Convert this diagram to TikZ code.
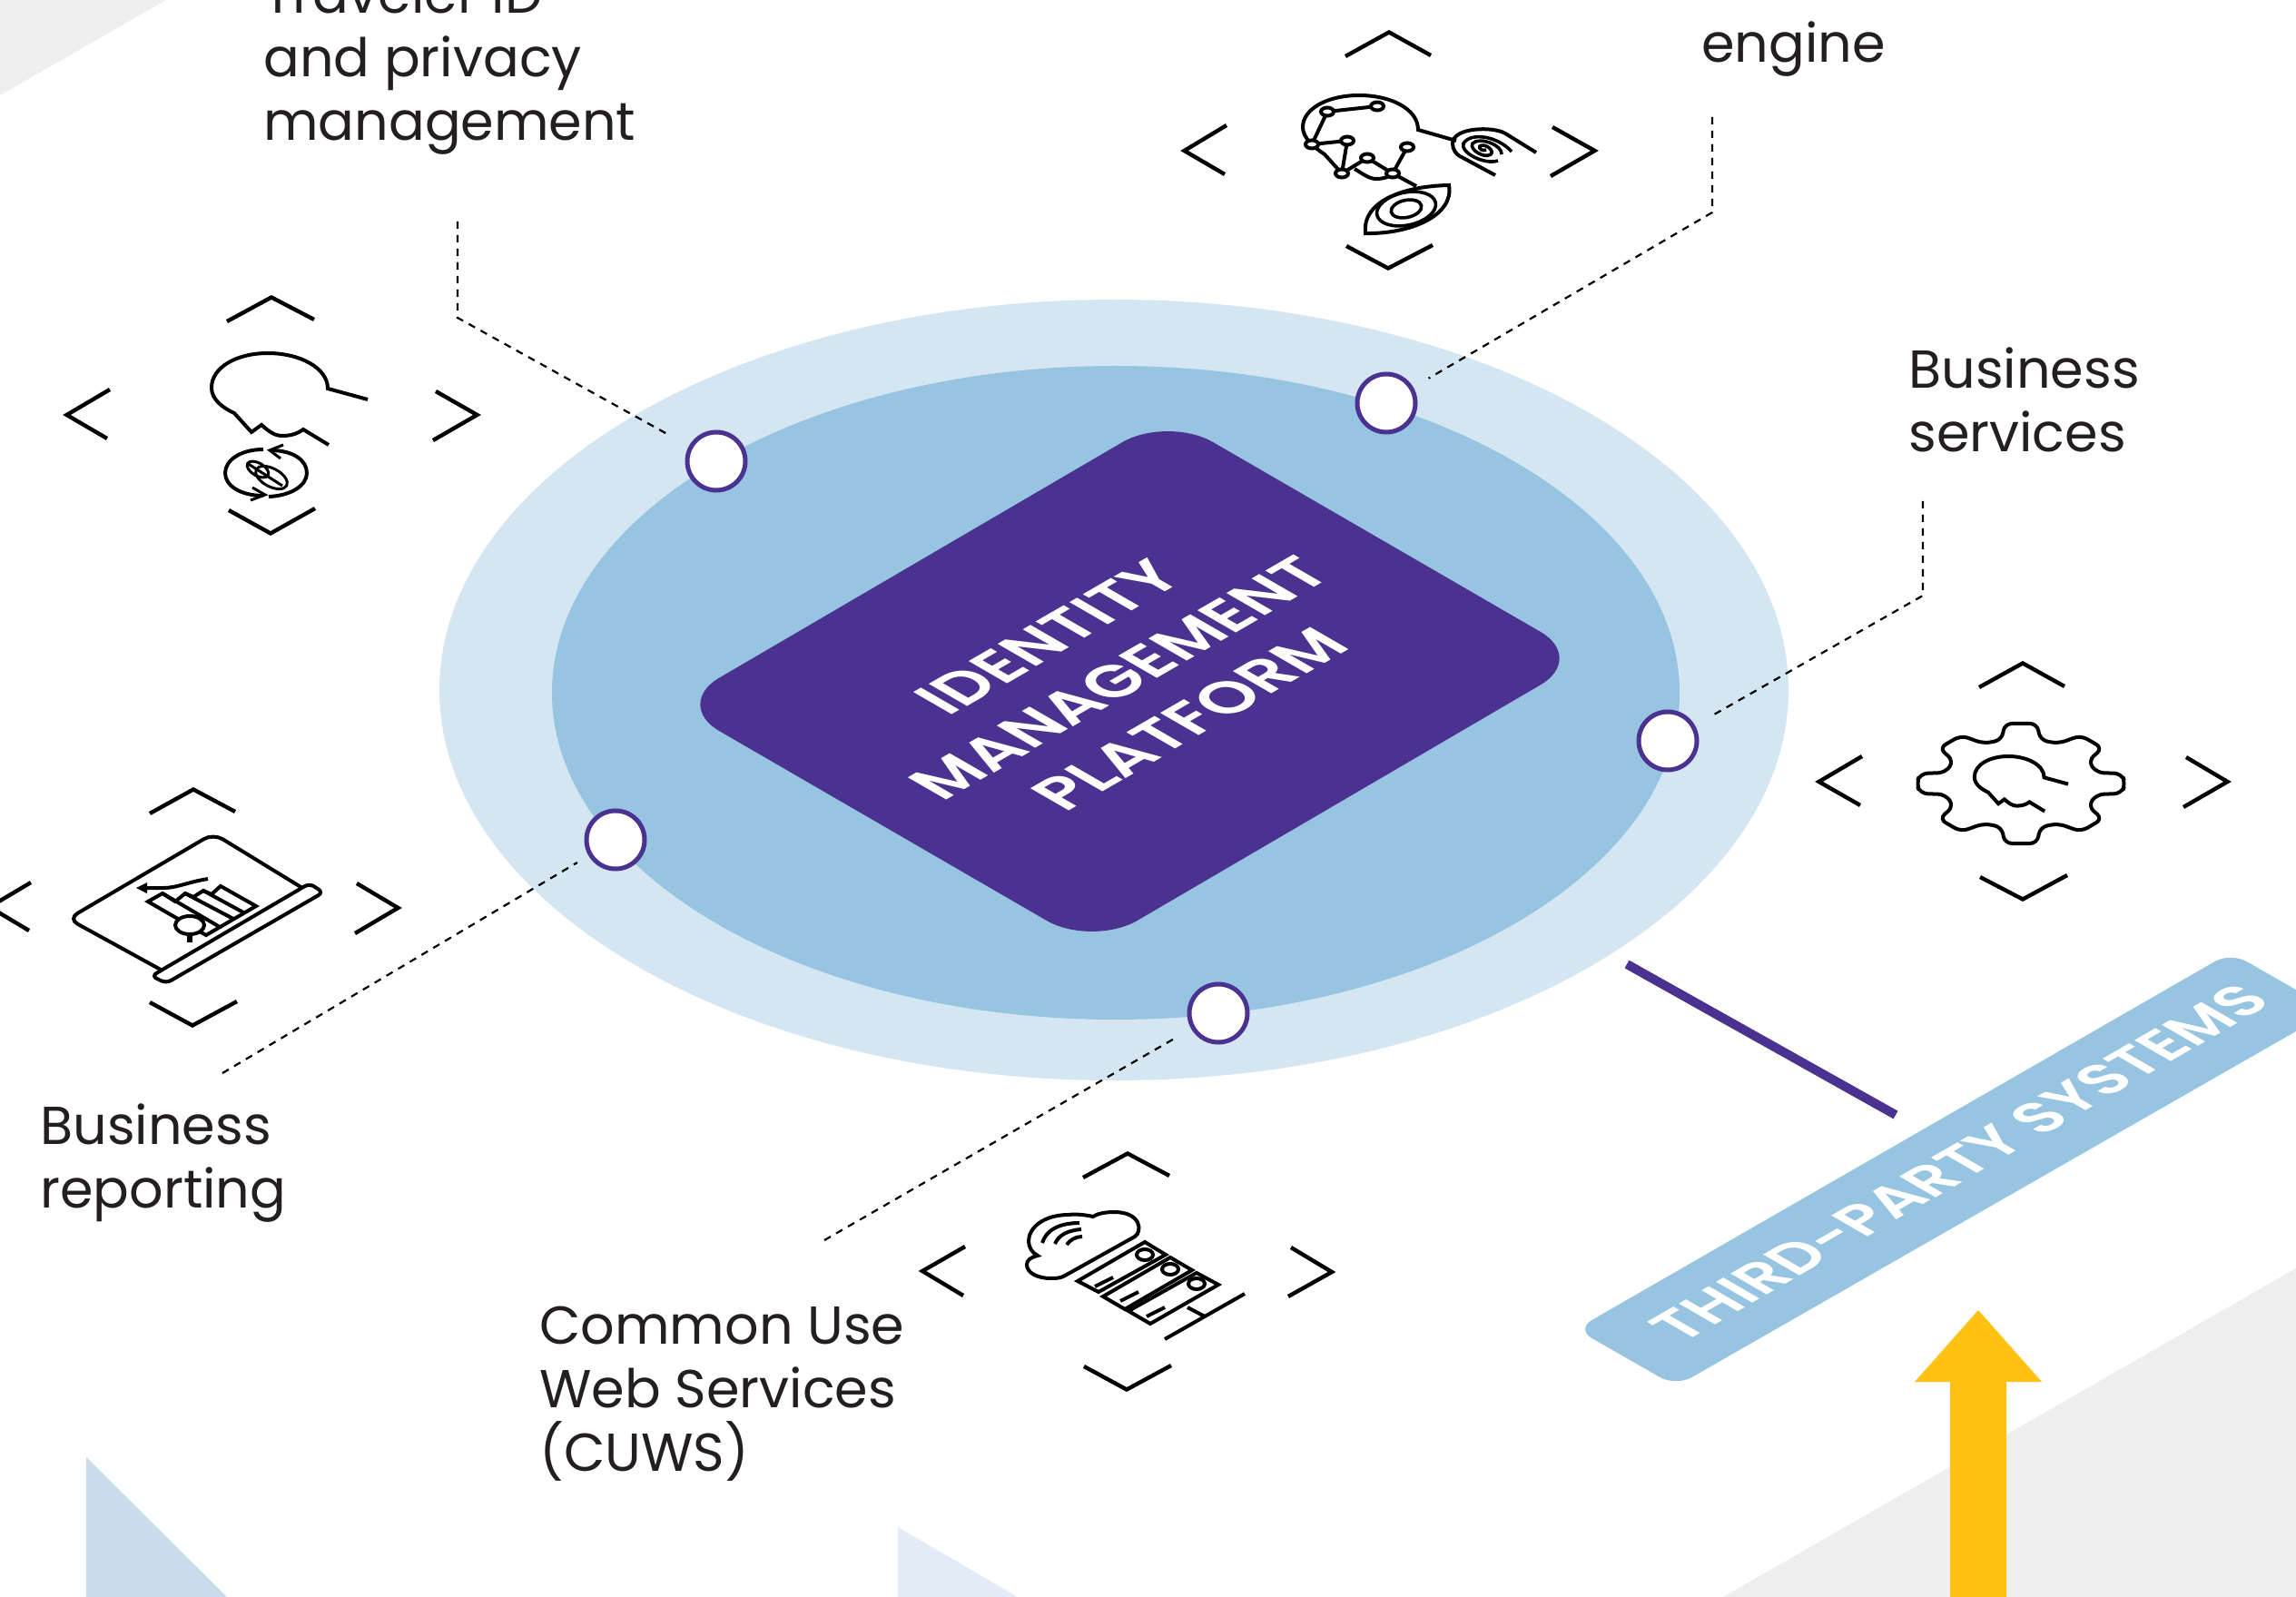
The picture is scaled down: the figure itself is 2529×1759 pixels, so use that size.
\documentclass[tikz,border=0pt]{standalone}
\usepackage{fontspec}
\setmainfont{Poppins}
\newfontfamily\psb{Poppins SemiBold}
\definecolor{outerb}{HTML}{D4E6F2}
\definecolor{innerb}{HTML}{96C4E1}
\definecolor{purp}{HTML}{4B3190}
\definecolor{greyb}{HTML}{EEEEEE}
\definecolor{tria}{HTML}{C9DCEC}
\definecolor{trib}{HTML}{E3ECF6}
\definecolor{yell}{HTML}{FFC114}
\definecolor{ink}{HTML}{231F20}
\tikzset{
  chev/.style={draw=black,line width=2.2pt,miter limit=10},
  ico/.style={draw=black,line width=2pt,line join=miter},
  icothin/.style={draw=black,line width=1.5pt},
  conn/.style={draw=black,line width=1.1pt,dash pattern=on 4pt off 3.5pt},
  dotn/.style={circle,draw=purp,fill=white,line width=2.5pt,minimum size=32pt,inner sep=0pt,outer sep=11pt},
  lbl/.style={anchor=north west,inner sep=0pt,align=left,text=ink,font=\fontsize{29.4}{35}\selectfont},
}
\newcommand{\headshape}{(110,51)--(66,39) .. controls (66,16) and (35,0) .. (0,0) .. controls (-35,0) and (-62,16) .. (-62,38) .. controls (-62,51) and (-50,60) .. (-37,66) -- (-18,87) -- (-7,79) .. controls (2,87) and (8,91) .. (16,91) .. controls (25,91) and (32,89) .. (39,84) -- (67,101)}
\begin{document}
\begin{tikzpicture}[x=0.5pt,y=-0.5pt]
\useasboundingbox (0,0) rectangle (2529,1759);
\clip (0,0) rectangle (2529,1759);
\fill[white] (0,0) rectangle (2529,1759);
% background
\fill[greyb] (0,0)--(183,0)--(0,105)--cycle;
\fill[greyb] (2529,1397)--(2529,1759)--(1898,1759)--cycle;
\fill[tria] (95,1605)--(250,1759)--(95,1759)--cycle;
\fill[trib] (989,1682)--(1121,1759)--(989,1759)--cycle;
% platform
\fill[outerb] (1227,760) ellipse [x radius=743,y radius=430];
\fill[innerb] (1229,763) ellipse [x radius=621,y radius=360];
\fill[purp,rounded corners=29pt] (1286,458)--(1747,725)--(1203,1043)--(742,776)--cycle;
\begin{scope}[cm={.866,.5,-.866,.5,(1233,747)},transform shape]
\node[text=white,align=center,inner sep=0pt,font=\psb\fontsize{35}{45}\selectfont] (platform) at (0,0) {IDENTITY\\MANAGEMENT\\PLATFORM};
\end{scope}
% dots
\node[dotn,outer sep=13pt] (d1) at (789,508) {};
\node[dotn] (d2) at (1527,444) {};
\node[dotn] (d3) at (1837,816) {};
\node[dotn,outer sep=8.5pt] (d4) at (678,925) {};
\node[dotn] (d5) at (1342,1116) {};
\coordinate (c1a) at (504,244);
\coordinate (c1b) at (504,350);
\coordinate (c2a) at (1886,129);
\coordinate (c2b) at (1886,234);
\coordinate (c3a) at (2118,552);
\coordinate (c3b) at (2118,656);
\coordinate (c4a) at (245,1182);
\coordinate (c5a) at (908,1366);
\draw[conn] (c1a)--(c1b)--(d1);
\draw[conn] (c2a)--(c2b)--(d2);
\draw[conn] (c3a)--(c3b)--(d3);
\draw[conn] (c4a)--(d4);
\draw[conn] (c5a)--(d5);
% labels
\node[lbl] (l1) at (290,-29.5) {Traveler ID\\and privacy\\management};
\node[lbl] (l2) at (1874,23) {engine};
\node[lbl] (l3) at (2102,382) {Business\\services};
\node[lbl] (l4) at (44,1215) {Business\\reporting};
\node[lbl] (l5) at (594,1439) {Common Use\\Web Services\\(CUWS)};
% third party
\coordinate (p1) at (1792,1062);
\coordinate (p2) at (2088,1228);
\draw[purp,line width=5pt] (p1)--(p2);
\fill[innerb,rounded corners=10pt] (1736,1464)--(2457,1049)--(2569,1113)--(1846,1527)--cycle;
\begin{scope}[cm={.866,.5,-.866,.5,(2158,1281)},transform shape]
\node[text=white,inner sep=0pt,font=\psb\fontsize{33}{36}\selectfont] (third) at (0,0) {THIRD-PARTY SYSTEMS};
\end{scope}
\fill[yell] (2179,1443)--(2249,1522)--(2210,1522)--(2210,1759)--(2148,1759)--(2148,1522)--(2109,1522)--cycle;
% icon 1
\draw[chev] (250,354)--(299,327.5)--(346,352);
\draw[chev] (121,429)--(73.5,457)--(118,483);
\draw[chev] (480,431)--(525.5,457)--(477,485);
\draw[chev] (252,562)--(298,587.5)--(347,560);
\begin{scope}[shift={(295,389)}]
\draw[ico] \headshape;
\end{scope}
\draw[ico] (290,495) .. controls (265,495) and (248,507) .. (248,521) .. controls (248,535) and (265,546) .. (290,546);
\draw[ico] (298,496) .. controls (323,496) and (338,507) .. (338,521) .. controls (338,535) and (320,546) .. (296,547);
\draw[icothin] (312,490)--(297,496)--(309,505);
\draw[icothin] (278,537)--(292,545)--(276,551);
\draw[icothin,rotate around={-28:(299,526)}] (299,526) ellipse [x radius=19,y radius=10];
\draw[icothin,rotate around={-30:(284,517)}] (284,517) ellipse [x radius=13,y radius=7];
\draw[icothin] (272,510)--(311,535);
% icon 2
\draw[chev] (1482,62)--(1530,35.5)--(1576,61);
\draw[chev] (1351,138)--(1304.5,166)--(1349,192);
\draw[chev] (1710,140)--(1756.5,166)--(1708,194);
\draw[chev] (1483,271)--(1529,295.5)--(1578,270);
\draw[ico] (1604,155)--(1562,143) .. controls (1562,120) and (1532,105) .. (1497,105) .. controls (1462,105) and (1435,120) .. (1435,140) .. controls (1435,152) and (1447,162) .. (1459,170) -- (1478,191);
\draw[ico] (1492,186) .. controls (1502,192) and (1508,197) .. (1516,197) .. controls (1524,197) and (1530,195) .. (1534,191) -- (1560,205);
\draw[ico] (1517,117)--(1462,123)--(1445,159)--(1484,155)--(1478,191)--(1506,174)--(1534,191)--(1550,162);
\foreach \p in {(1462,123),(1517,117),(1445,159),(1484,155),(1506,174),(1550,162),(1478,191),(1534,191)}
  \draw[ico,fill=white] \p ellipse [x radius=7,y radius=4.5];
\draw[ico] (1692,168)--(1658,147) .. controls (1645,139) and (1600,140) .. (1600,158) .. controls (1600,165) and (1604,170) .. (1608,172) -- (1647,193);
\draw[line width=1.8pt] (1665,167) .. controls (1650,150) and (1620,145) .. (1612,158) .. controls (1608,168) and (1635,182) .. (1650,177);
\draw[line width=1.8pt] (1654,170) .. controls (1655,160) and (1630,150) .. (1622,158) .. controls (1618,165) and (1635,175) .. (1642,170) .. controls (1647,166) and (1635,157) .. (1630,161) .. controls (1628,164) and (1634,167) .. (1637,165);
\draw[ico] (1596,204) .. controls (1545,205) and (1500,222) .. (1504,257) .. controls (1552,258) and (1602,238) .. (1596,204) -- cycle;
\draw[line width=1.8pt,rotate around={12:(1549,230)}] (1549,230) ellipse [x radius=33,y radius=18];
\draw[line width=1.8pt,rotate around={12:(1549,230)}] (1549,230) ellipse [x radius=17,y radius=9.5];
% icon 3
\draw[chev] (2180,757)--(2228,730.5)--(2274,756);
\draw[chev] (2051,833)--(2003.5,861)--(2049,887);
\draw[chev] (2408,834)--(2453.5,861)--(2405,889);
\draw[chev] (2181,966)--(2228,990.5)--(2277,964);
\begin{scope}[shift={(2226,863)}]
\draw[ico,rounded corners=4pt] (18,-66)--(21,-48)--(41,-44)--(66,-53)--(90,-39)--(74,-25)--(83,-12)--(111,-11)--(115,0)--(111,11)--(83,12)--(74,25)--(90,39)--(66,53)--(41,44)--(21,48)--(18,66)--(-18,66)--(-21,48)--(-41,44)--(-66,53)--(-90,39)--(-74,25)--(-83,12)--(-111,11)--(-115,0)--(-111,-11)--(-83,-12)--(-74,-25)--(-90,-39)--(-66,-53)--(-41,-44)--(-21,-48)--(-18,-66)--cycle;
\end{scope}
\begin{scope}[shift={(2212,833)},scale=.6]
\draw[ico] \headshape;
\end{scope}
% icon 4
\draw[chev] (165,896)--(213,869.5)--(259,894);
\draw[chev] (34,972)--(-11.5,999)--(32,1025);
\draw[chev] (393,973)--(438.5,1000)--(391,1028);
\draw[chev] (165,1104)--(212,1129.5)--(261,1103);
\draw[ico,rounded corners=6pt] (177,1068)--(75,1012)--(235,918)--(333,978);
\draw[ico,rounded corners=3pt] (341,973)--(356,983)--(183,1083)--(167,1075)--cycle;
\draw[ico] (163,993)--(179,984)--(193,993)--(204,984)--(213,988)--(224,981)--(233,985)--(243,976)--(282,998)--(227,1030)--cycle;
\draw[ico] (179,984)--(242,1021);
\draw[ico] (204,984)--(257,1012);
\draw[ico] (224,981)--(268,1005);
\draw[ico] (229,968) .. controls (205,972) and (195,978) .. (180,978) -- (155,978);
\fill[black] (150,978)--(162,972)--(162,984)--cycle;
\draw[ico,fill=white] (209,1019) ellipse [x radius=16,y radius=10];
\draw[line width=3pt] (209,1029)--(209,1038);
% icon 5
\draw[chev] (1193,1297)--(1242,1270.5)--(1288,1295);
\draw[chev] (1063,1373)--(1016,1400)--(1061,1427);
\draw[chev] (1422,1374)--(1467,1401)--(1419,1428);
\draw[chev] (1194,1505)--(1241,1530.5)--(1290,1504);
\draw[ico] (1250,1362) .. controls (1258,1357) and (1258,1335) .. (1227,1335) .. controls (1217,1335) and (1208,1337) .. (1204,1340) .. controls (1195,1338) and (1185,1337) .. (1177,1338) .. controls (1150,1338) and (1133,1352) .. (1133,1367) .. controls (1133,1374) and (1137,1380) .. (1143,1383) .. controls (1135,1385) and (1131,1388) .. (1131,1393) .. controls (1131,1402) and (1143,1408) .. (1157,1408) .. controls (1163,1408) and (1168,1408) .. (1173,1405) -- cycle;
\draw[ico] (1189,1347) .. controls (1165,1347) and (1152,1356) .. (1148,1369);
\draw[ico] (1191,1354) .. controls (1177,1355) and (1166,1360) .. (1162,1370);
\draw[ico] (1192,1362) .. controls (1185,1362) and (1178,1366) .. (1175,1371);
\draw[ico] (1261,1368)--(1284,1382)--(1210,1423)--(1187,1411)--cycle;
\draw[ico] (1289,1385)--(1313,1399)--(1239,1442)--(1215,1428)--cycle;
\draw[ico] (1318,1402)--(1342,1415)--(1267,1458)--(1243,1444)--cycle;
\draw[ico] (1261,1382) ellipse [x radius=9,y radius=6];
\draw[ico] (1289,1398) ellipse [x radius=9,y radius=6];
\draw[ico] (1318,1414) ellipse [x radius=9,y radius=6];
\draw[ico] (1206,1417)--(1226,1407);
\draw[ico] (1234,1433)--(1254,1423);
\draw[ico] (1263,1450)--(1283,1440);
\draw[ico] (1283,1475)--(1371,1425);
\draw[ico] (1308,1440)--(1327,1450);
\end{tikzpicture}
\end{document}
